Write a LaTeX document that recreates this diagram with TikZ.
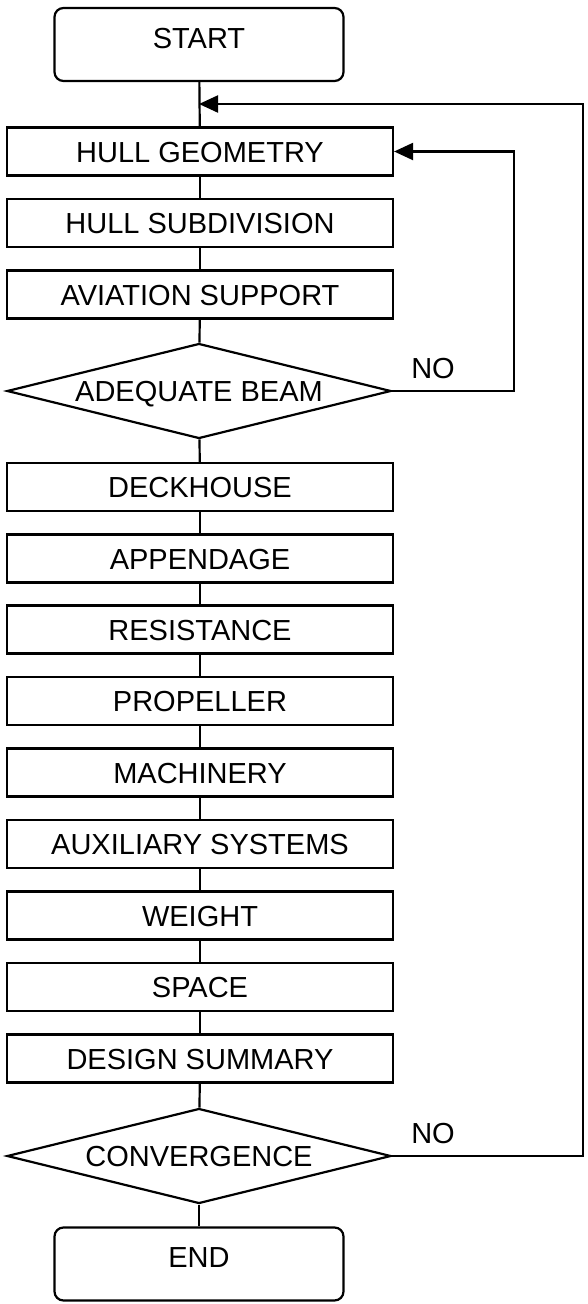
\documentclass[tikz,border=0pt]{standalone}
\usepackage{fontspec}
\setmainfont{Liberation Sans}
\usetikzlibrary{arrows.meta,shapes.geometric}

\begin{document}
\begin{tikzpicture}[x=1pt, y=-1pt, >={Triangle[length=19pt,width=17pt]},
  box/.style={rectangle, draw, line width=2.2pt, minimum width=386pt, minimum height=48pt, inner sep=0pt, font=\fontsize{29}{33}\selectfont, text height=21pt, text depth=0pt},
  term/.style={box, rounded corners=9pt, minimum width=289pt, minimum height=73pt, text depth=14pt},
  test/.style={diamond, aspect=4, draw, line width=2.2pt, minimum width=384pt, minimum height=95pt, inner sep=0pt, font=\fontsize{29}{33}\selectfont, text height=21pt, text depth=0pt},
  lbl/.style={inner sep=0pt, font=\fontsize{29}{33}\selectfont, text height=21pt, text depth=0pt},
  edge/.style={line width=2.2pt},
  back/.style={->, line width=2.2pt}
]
\useasboundingbox (0,0) rectangle (587,1304);
\node[term] (n0) at (199,44.5) {START};
\node[box] (n1) at (200,151.5) {HULL GEOMETRY};
\node[box] (n2) at (200,223) {HULL SUBDIVISION};
\node[box] (n3) at (200,294.5) {AVIATION SUPPORT};
\node[test] (n4) at (199,391) {ADEQUATE BEAM};
\node[box] (n5) at (200,487) {DECKHOUSE};
\node[box] (n6) at (200,558.5) {APPENDAGE};
\node[box] (n7) at (200,629.5) {RESISTANCE};
\node[box] (n8) at (200,701) {PROPELLER};
\node[box] (n9) at (200,772.5) {MACHINERY};
\node[box] (n10) at (200,844) {AUXILIARY SYSTEMS};
\node[box] (n11) at (200,915.5) {WEIGHT};
\node[box] (n12) at (200,987) {SPACE};
\node[box] (n13) at (200,1058.5) {DESIGN SUMMARY};
\node[test] (n14) at (199,1156) {CONVERGENCE};
\node[term] (n15) at (199,1264) {END};
\node[lbl] (no1) at (433,368) {NO};
\node[lbl] (no2) at (433,1133) {NO};
\coordinate (j1) at (199,104);
\coordinate (c1) at (514,391);
\coordinate (c2) at (514,151.5);
\coordinate (c3) at (583,1156);
\coordinate (c4) at (583,104);
\draw[edge] (n0) -- (n1);
\draw[edge] (n1) -- (n2);
\draw[edge] (n2) -- (n3);
\draw[edge] (n3) -- (n4);
\draw[edge] (n4) -- (n5);
\draw[edge] (n5) -- (n6);
\draw[edge] (n6) -- (n7);
\draw[edge] (n7) -- (n8);
\draw[edge] (n8) -- (n9);
\draw[edge] (n9) -- (n10);
\draw[edge] (n10) -- (n11);
\draw[edge] (n11) -- (n12);
\draw[edge] (n12) -- (n13);
\draw[edge] (n13) -- (n14);
\draw[edge] (n14) -- (n15);
\draw[back] (n4.east) -- (c1) -- (c2) -- (n1.east);
\draw[back] (n14.east) -- (c3) -- (c4) -- (j1);
\end{tikzpicture}
\end{document}
